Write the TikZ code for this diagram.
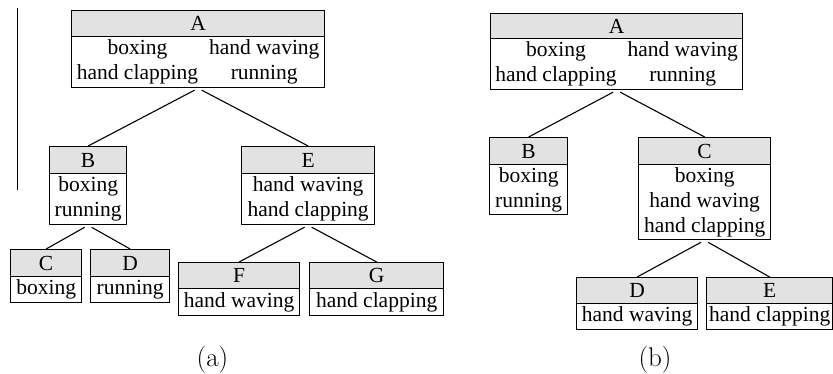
\documentclass[tikz,border=0pt]{standalone}
\usepackage{fontspec}
\newfontfamily\tms{Liberation Serif}
\definecolor{hdrgray}{RGB}{226,226,226}
\tikzset{
  boxtxt/.style={font=\tms\fontsize{21.5}{25}\selectfont},
  hdr/.style={boxtxt, draw, line width=1.3pt, fill=hdrgray, inner sep=0pt, anchor=north west},
  bdy/.style={boxtxt, draw, line width=1.3pt, fill=white, inner sep=0pt, anchor=north west, align=center},
  conn/.style={line width=1.1pt, shorten <=4pt},
  sublabel/.style={font=\fontsize{27}{30}\selectfont, anchor=base}
}
\begin{document}
\begin{tikzpicture}[x=1pt,y=-1pt]
\useasboundingbox (0,0) rectangle (833,374);
% stray vertical rule
\coordinate (ltop) at (17,8);
\coordinate (lbot) at (17,190);
\draw[line width=1pt] (ltop) -- (lbot);

% ---------- (a) ----------
\node[hdr, minimum width=253, minimum height=26] (aA) at (71,10) {A};
\node[bdy, minimum width=253, minimum height=51] (aAb) at (71,36)
  {\begin{tabular}{@{}c@{\hspace{11pt}}c@{}}boxing & hand waving\\[-0.5pt] hand clapping & running\end{tabular}};

\node[hdr, minimum width=77, minimum height=27] (aB) at (49,146) {B};
\node[bdy, minimum width=77, minimum height=51] (aBb) at (49,173) {boxing\\running};

\node[hdr, minimum width=133, minimum height=27] (aE) at (241,146) {E};
\node[bdy, minimum width=133, minimum height=51] (aEb) at (241,173) {hand waving\\hand clapping};

\node[hdr, minimum width=71, minimum height=27] (aC) at (10,249) {C};
\node[bdy, minimum width=71, minimum height=26] (aCb) at (10,276) {boxing};

\node[hdr, minimum width=79, minimum height=27] (aD) at (90,249) {D};
\node[bdy, minimum width=79, minimum height=26] (aDb) at (90,276) {running};

\node[hdr, minimum width=121, minimum height=26] (aF) at (178,262) {F};
\node[bdy, minimum width=121, minimum height=27] (aFb) at (178,288) {hand waving};

\node[hdr, minimum width=134, minimum height=26] (aG) at (309,262) {G};
\node[bdy, minimum width=134, minimum height=27] (aGb) at (309,288) {hand clapping};

\draw[conn] (aAb.south) -- (aB.north);
\draw[conn] (aAb.south) -- (aE.north);
\draw[conn] (aBb.south) -- (aC.north);
\draw[conn] (aBb.south) -- (aD.north);
\draw[conn] (aEb.south) -- (aF.north);
\draw[conn] (aEb.south) -- (aG.north);

\node[sublabel] (la) at (212.5,366) {(a)};

% ---------- (b) ----------
\node[hdr, minimum width=252, minimum height=25] (bA) at (490,13) {A};
\node[bdy, minimum width=252, minimum height=51] (bAb) at (490,38)
  {\begin{tabular}{@{}c@{\hspace{11pt}}c@{}}boxing & hand waving\\[-0.5pt] hand clapping & running\end{tabular}};

\node[hdr, minimum width=78, minimum height=27] (bB) at (489,137) {B};
\node[bdy, minimum width=78, minimum height=50] (bBb) at (489,164) {boxing\\running};

\node[hdr, minimum width=132, minimum height=27] (bC) at (638,137) {C};
\node[bdy, minimum width=132, minimum height=75] (bCb) at (638,164) {boxing\\hand waving\\hand clapping};

\node[hdr, minimum width=121, minimum height=26] (bD) at (576,277) {D};
\node[bdy, minimum width=121, minimum height=26] (bDb) at (576,303) {hand waving};

\node[hdr, minimum width=126, minimum height=26] (bE) at (706,277) {E};
\node[bdy, minimum width=126, minimum height=26] (bEb) at (706,303) {hand clapping};

\draw[conn] (bAb.south) -- (bB.north);
\draw[conn] (bAb.south) -- (bC.north);
\draw[conn] (bCb.south) -- (bD.north);
\draw[conn] (bCb.south) -- (bE.north);

\node[sublabel] (lb) at (655,366) {(b)};
\end{tikzpicture}
\end{document}
